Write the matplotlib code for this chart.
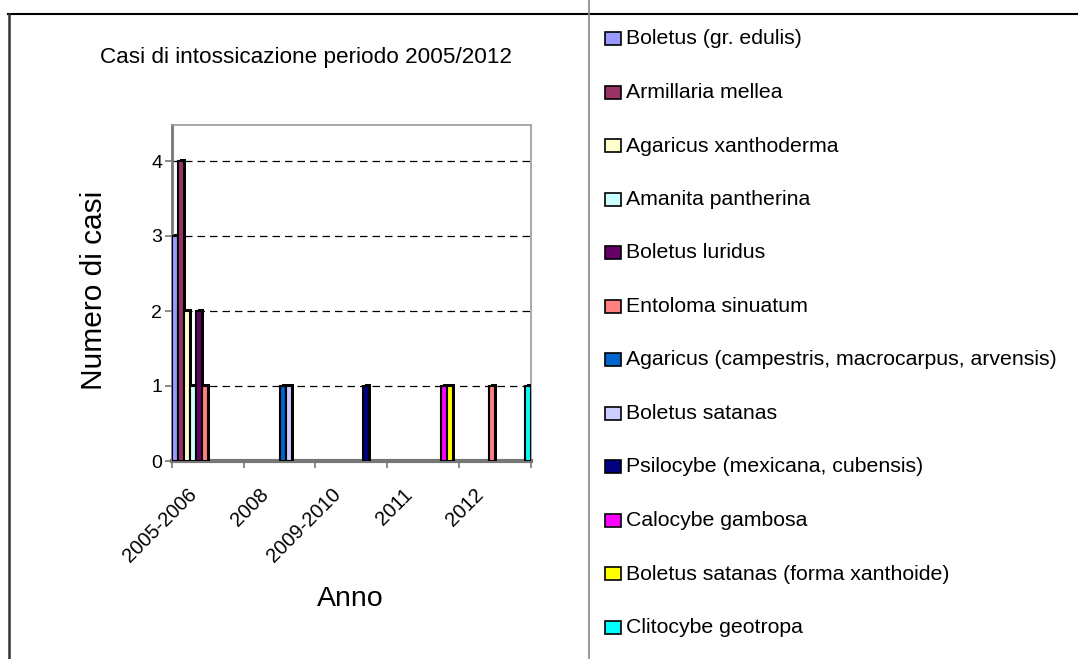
import matplotlib
matplotlib.use("Agg")
import matplotlib.pyplot as plt
import numpy as np
from matplotlib.patches import Rectangle
from matplotlib.lines import Line2D

plt.rcParams['font.family'] = ['Liberation Sans', 'DejaVu Sans']

# ========== Data ==========
categories = ['2005-2006', '2008', '2009-2010', '2011', '2012']

species = [
    'Boletus (gr. edulis)',
    'Armillaria mellea',
    'Agaricus xanthoderma',
    'Amanita pantherina',
    'Boletus luridus',
    'Entoloma sinuatum',
    'Agaricus (campestris, macrocarpus, arvensis)',
    'Boletus satanas',
    'Psilocybe (mexicana, cubensis)',
    'Calocybe gambosa',
    'Boletus satanas (forma xanthoide)',
    'Clitocybe geotropa',
]

colors = ['#9999FF', '#993366', '#FFFFCC', '#CCFFFF', '#660066', '#FF8080',
          '#0066CC', '#CCCCFF', '#000080', '#FF00FF', '#FFFF00', '#00FFFF']

counts = [
    [3, 0, 0, 0, 0],
    [4, 0, 0, 0, 0],
    [2, 0, 0, 0, 0],
    [1, 0, 0, 0, 0],
    [2, 0, 0, 0, 0],
    [1, 0, 0, 0, 1],
    [0, 1, 0, 0, 0],
    [0, 1, 0, 0, 0],
    [0, 0, 1, 0, 0],
    [0, 0, 0, 1, 0],
    [0, 0, 0, 1, 0],
    [0, 0, 0, 0, 1],
]

# ========== Figure ==========
W, H = 1078, 659
fig = plt.figure(figsize=(W / 100, H / 100), dpi=100)
fig.patch.set_facecolor('white')

ax = fig.add_axes([172 / W, 1 - 461 / H, (530.5 - 172) / W, (461 - 125) / H])

n = len(species)
bw = 1.0 / n
dx, dy = 0.03, 0.03   # fake 3D depth
cat_x = np.arange(len(categories))

for i, (name, col, vals) in enumerate(zip(species, colors, counts)):
    vals = np.array(vals, dtype=float)
    mask = vals > 0
    xs = cat_x[mask] + i * bw
    ax.bar(xs + dx, vals[mask] + dy, width=bw, align='edge',
           color='black', zorder=3)
    ax.bar(xs, vals[mask], width=bw, align='edge', color=col,
           edgecolor='black', linewidth=1.5, zorder=4)

ax.set_xlim(0, len(categories))
ax.set_ylim(0, 4.48)

# grid
ax.set_yticks(range(5))
for yv in range(1, 5):
    ax.axhline(yv, color='black', linestyle=(0, (6, 4)), linewidth=0.9, zorder=1)

# spines
for s in ['top', 'right']:
    ax.spines[s].set_color('#999999')
    ax.spines[s].set_linewidth(1.2)
ax.spines['left'].set_color('#777777')
ax.spines['left'].set_linewidth(2)
ax.spines['bottom'].set_color('#777777')
ax.spines['bottom'].set_linewidth(3)

# ticks
ax.set_xticks(cat_x.tolist() + [len(categories)])
ax.set_xticklabels([])
ax.set_xticks(cat_x + 0.31, minor=True)
ax.set_xticklabels(categories, minor=True, rotation=45, ha='right',
                   va='center', rotation_mode='anchor', fontsize=14.5)
ax.tick_params(axis='x', which='minor', length=0, pad=22)
ax.tick_params(axis='x', which='major', length=5, color='#777777', width=1.2)
ax.tick_params(axis='y', length=5, color='#777777', width=1.2, labelsize=14, pad=2)

ax.set_ylabel('Numero di casi', fontsize=21.5)
ax.set_xlabel('Anno', fontsize=20.5)
ax.xaxis.set_label_coords((350 - 172) / (530.5 - 172), -(586 - 461) / (461 - 125))
ax.yaxis.set_label_coords(-(172 - 108) / (530.5 - 172), (461 - 290) / (461 - 125))

fig.text(306 / W, 1 - 57 / H, 'Casi di intossicazione periodo 2005/2012',
         fontsize=16.2, ha='center', va='center')

# ========== Frame lines ==========
fig.add_artist(Line2D([8 / W, 1], [1 - 14 / H, 1 - 14 / H], color='black', linewidth=1.5))
fig.add_artist(Line2D([9 / W, 9 / W], [0, 1 - 14 / H], color='#333333', linewidth=1.8))
fig.add_artist(Line2D([589 / W, 589 / W], [0, 1], color='#888888', linewidth=1.2))

# ========== Legend ==========
for i, (name, col) in enumerate(zip(species, colors)):
    yc = 38 + i * 53.5
    fig.add_artist(Rectangle((605 / W, 1 - (yc + 7) / H), 16 / W, 13 / H,
                             facecolor=col, edgecolor='black', linewidth=1.2))
    fig.text(626 / W, 1 - (yc + 1) / H, name, fontsize=15.3, ha='left', va='center')

fig.savefig('out.png', dpi=100)
